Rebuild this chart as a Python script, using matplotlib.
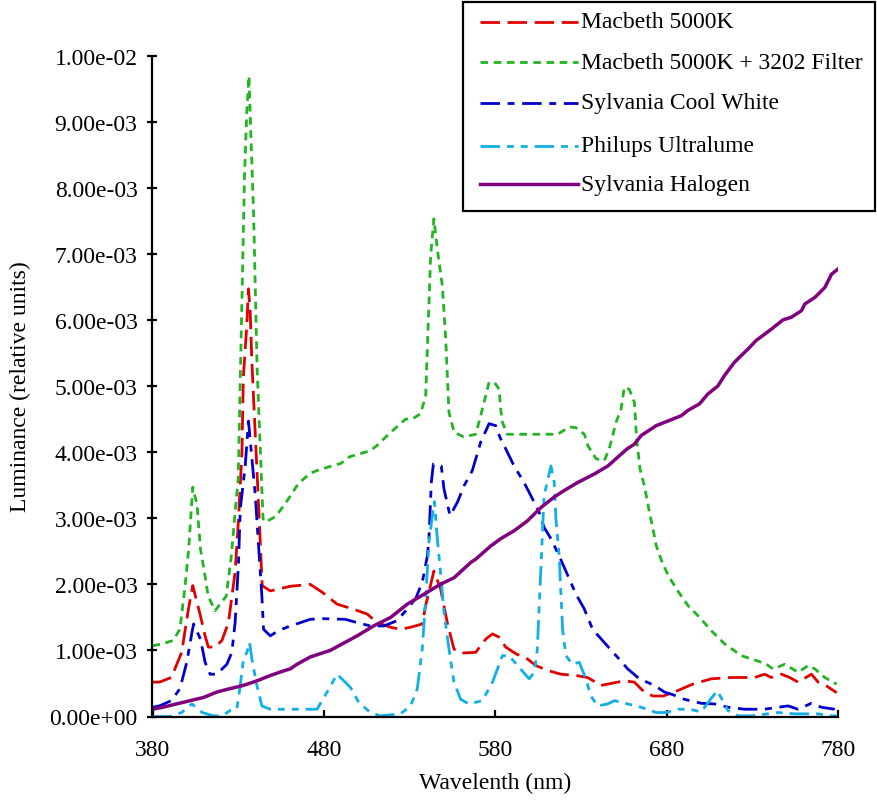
import matplotlib
matplotlib.use("Agg")
import matplotlib.pyplot as plt
from matplotlib.ticker import MultipleLocator, FormatStrFormatter
from matplotlib.lines import Line2D
from matplotlib.patches import Rectangle

plt.rcParams['font.family'] = ['Liberation Serif', 'DejaVu Serif']
plt.rcParams['lines.scale_dashes'] = False

# ---- data (luminance in units of 1e-3) ----
green_wl = [380, 386, 392, 396, 399, 401, 403.5, 406, 408, 410, 412.5, 416.5, 423, 426, 428, 430,
            433.7, 435, 436.3, 437, 439, 441, 444.5, 446, 452, 458, 465, 472, 476, 482, 490, 495,
            507, 511, 519, 527.7, 531.6, 536.4, 539.4, 542.3, 544.2, 546.2, 549.1, 551, 553, 556,
            561.6, 568.6, 571.5, 574.4, 576.4, 580.3, 582.2, 583.2, 584.2, 587, 616.4, 623.2, 627,
            632, 634, 638.8, 643.6, 646.5, 650.5, 653.4, 655.3, 658.2, 661.2, 662.5, 664.5, 667,
            670, 672, 674, 677, 681, 686.5, 692.4, 699.2, 706, 713.8, 723.6, 734.3, 738.2, 742.1,
            748.9, 756.7, 762.6, 766.5, 772.3, 779.2]
green_v = [1.07, 1.10, 1.15, 1.32, 1.97, 2.5, 3.47, 3.2, 2.53, 2.23, 1.82, 1.6, 1.82, 2.43, 3.03, 3.59,
           8.18, 9.14, 9.69, 9.1, 7.6, 5.3, 2.99, 2.94, 3.03, 3.24, 3.52, 3.68, 3.72, 3.77, 3.83, 3.93,
           4.02, 4.1, 4.3, 4.5, 4.5, 4.58, 4.85, 6.97, 7.53, 7.07, 6.52, 5.76, 4.6, 4.3,
           4.23, 4.27, 4.55, 4.85, 5.06, 5.03, 4.95, 4.65, 4.45, 4.27, 4.27, 4.38, 4.37,
           4.27, 4.1, 3.9, 3.87, 4.05, 4.45, 4.65, 4.98, 4.95, 4.75, 4.2, 3.74, 3.49,
           3.09, 2.84, 2.58, 2.36, 2.13, 1.9, 1.68, 1.5, 1.3, 1.1, 0.92, 0.83, 0.79, 0.72,
           0.79, 0.67, 0.77, 0.72, 0.59, 0.49]

red_wl = [380, 384, 391, 397, 401, 403.5, 408, 410.7, 412.6, 416.5, 420.5, 424.3, 428.2, 430.2, 432.2,
          433, 435, 436, 437, 438, 440, 442, 444, 448.7, 453.6, 460.4, 472, 479, 487.7, 496.5, 505.3,
          511.1, 518.9, 524.7, 530.6, 537.4, 539.4, 544.2, 548.1, 552, 555.9, 559.8, 568.6, 574.4,
          578.4, 582.2, 586.1, 592, 598.8, 603.7, 611.4, 618.3, 627.1, 633.9, 641.7, 651.5, 655.3,
          661.2, 665, 667, 672, 678, 684.5, 695.3, 706, 717.7, 731.3, 737.2, 741.1, 747, 751.8,
          756.7, 764.5, 768.4, 772.3, 779.2]
red_v = [0.52, 0.52, 0.59, 0.97, 1.63, 1.98, 1.52, 1.22, 1.05, 1.05, 1.15, 1.42, 2.18, 2.99, 4.0,
         5.13, 5.91, 6.47, 6.12, 5.36, 4.25, 3.14, 1.98, 1.9, 1.93, 1.97, 2.0, 1.88, 1.7, 1.63, 1.55,
         1.42, 1.35, 1.32, 1.35, 1.4, 1.68, 2.2, 1.93, 1.42, 1.02, 0.96, 0.97, 1.17,
         1.25, 1.2, 1.05, 0.95, 0.87, 0.77, 0.69, 0.64, 0.62, 0.59, 0.47, 0.52, 0.54,
         0.52, 0.42, 0.37, 0.31, 0.31, 0.37, 0.49, 0.57, 0.59, 0.59, 0.64, 0.59, 0.64, 0.59,
         0.52, 0.64, 0.52, 0.48, 0.36]

blue_wl = [380, 384, 391, 396, 400, 403, 404, 408, 410.7, 413.6, 417.5, 423.4, 426.3, 428.2, 430.2,
           431.2, 434.1, 436, 440, 441.9, 443.8, 444.8, 448.7, 453.6, 460.4, 466.3, 472, 480, 492.6,
           499.4, 507.2, 515, 522.8, 528.7, 533.5, 537.4, 540.4, 541.3, 542.7, 543.9, 548.5, 550.1,
           553.6, 557.9, 561.8, 566.6, 571.5, 576.4, 580.3, 582.8, 586.1, 591, 596.8, 600.8, 605.6,
           608.5, 612.5, 617.3, 621.2, 627.1, 631.9, 636.8, 643.6, 649.5, 657.3, 664.1, 672.9, 678.7,
           683.6, 690.4, 700.2, 708, 715.8, 725.5, 737.2, 745, 750.9, 756.7, 764.5, 770.3, 778.1]
blue_v = [0.14, 0.16, 0.24, 0.42, 0.82, 1.27, 1.4, 1.17, 0.82, 0.64, 0.64, 0.79, 0.97, 1.42, 2.33,
          3.14, 3.79, 4.47, 3.34, 2.58, 1.83, 1.32, 1.22, 1.3, 1.37, 1.42, 1.47, 1.48, 1.47,
          1.42, 1.37, 1.37, 1.45, 1.63, 1.78, 2.03, 2.43, 2.69, 3.54, 3.82, 3.79, 3.44,
          3.04, 3.24, 3.49, 3.72, 4.15, 4.43, 4.4, 4.22, 4.05, 3.79, 3.54, 3.34, 3.09,
          2.86, 2.69, 2.43, 2.2, 1.85, 1.63, 1.32, 1.12, 0.95, 0.72, 0.57, 0.47, 0.37,
          0.33, 0.26, 0.2, 0.19, 0.14, 0.11, 0.11, 0.14, 0.16, 0.11, 0.2, 0.14, 0.11]

cyan_wl = [380, 390, 397, 403, 409, 415.6, 420.5, 425.3, 429.2, 431.2, 433.1, 435.1, 436.6, 438, 440.9,
           443.8, 448.7, 460.4, 476, 481.9, 487.7, 495.5, 500.4, 507.2, 513, 524.7, 530.6, 534.5,
           537.4, 539.4, 541.3, 543.3, 544.5, 546.2, 548, 550.1, 553, 555.9, 559.8, 564.7, 572.5,
           578.4, 584.2, 588.1, 593, 599.8, 602.7, 604.5, 608.5, 612.5, 614.4, 615.4, 617.3, 619.3,
           621.2, 625.1, 629, 632.9, 635.8, 639.7, 645.6, 649.5, 657.3, 665.1, 673.9, 679.8, 686.5,
           693.3, 700.2, 705, 709.5, 712.8, 715.8, 721.6, 729.4, 745, 754.8, 768.4, 776.3, 780]
cyan_v = [0.0, 0.0, 0.06, 0.19, 0.06, 0.01, 0.01, 0.09, 0.11, 0.47, 0.87, 0.97, 1.12, 0.87, 0.47,
          0.16, 0.11, 0.11, 0.11, 0.37, 0.64, 0.44, 0.21, 0.06, 0.01, 0.04, 0.16, 0.42,
          1.02, 1.78, 2.64, 3.04, 3.25, 2.69, 2.2, 1.58, 1.02, 0.52, 0.26, 0.19, 0.24,
          0.52, 0.92, 0.92, 0.77, 0.57, 0.67, 1.0, 3.34, 3.79, 3.54, 2.99, 2.43, 1.32,
          0.92, 0.79, 0.82, 0.57, 0.31, 0.16, 0.19, 0.24, 0.19, 0.14, 0.06, 0.06, 0.11,
          0.11, 0.07, 0.24, 0.39, 0.24, 0.09, 0.01, 0.01, 0.06, 0.04, 0.04, 0.01, 0.01]

purple_wl = [380, 386, 394, 402, 410, 417.5, 425, 433, 441, 448.7, 456.5, 460.4, 464.3, 472, 483.7,
             488.7, 499.4, 509, 519, 528.7, 538.4, 548, 556, 565.7, 568.6, 577.4, 583.2, 591, 598.8,
             606.6, 614.4, 620.3, 628.1, 637.9, 645.7, 653.5, 657, 661.2, 665.1, 673.9, 680.7, 688.5,
             692.4, 699.2, 704.1, 709.9, 713.8, 719.6, 727.5, 732.3, 741.1, 747.9, 752.8, 758.7,
             760.6, 766.5, 772.3, 776.2, 780]
purple_v = [0.11, 0.14, 0.19, 0.24, 0.29, 0.37, 0.42, 0.47, 0.54, 0.62, 0.69, 0.72, 0.79, 0.9, 1.0,
            1.07, 1.22, 1.37, 1.5, 1.7, 1.85, 2.0, 2.1, 2.33, 2.38, 2.58, 2.69, 2.81, 2.96,
            3.16, 3.32, 3.42, 3.54, 3.67, 3.79, 3.97, 4.05, 4.12, 4.25, 4.4, 4.47, 4.55,
            4.63, 4.73, 4.88, 5.0, 5.16, 5.36, 5.56, 5.69, 5.86, 6.0, 6.04, 6.14,
            6.24, 6.34, 6.49, 6.69, 6.77]

labels = ["Macbeth 5000K", "Macbeth 5000K + 3202 Filter", "Sylvania Cool White",
          "Philups Ultralume", "Sylvania Halogen"]
xticks = [380, 480, 580, 680, 780]

W, H = 878, 804
fig = plt.figure(figsize=(W / 100, H / 100), dpi=100)
ax = fig.add_axes([152.5 / W, 1 - 717.5 / H, (838 - 152.5) / W, (717.5 - 56.5) / H])

scale = 1e-3
styles = [
    dict(color='#E00000', lw=2.0, dashes=(14, 5.5)),
    dict(color='#22B422', lw=2.0, dashes=(5.5, 4)),
    dict(color='#0000CC', lw=2.0, dashes=(14, 5.5, 5, 5.5)),
    dict(color='#12AEE8', lw=2.0, dashes=(14, 5, 5, 5, 5, 5)),
    dict(color='#800080', lw=2.5, linestyle='-'),
]
series = [(red_wl, red_v), (green_wl, green_v), (blue_wl, blue_v),
          (cyan_wl, cyan_v), (purple_wl, purple_v)]
for (wl, v), st, lab in zip(series, styles, labels):
    ax.plot(wl, [x * scale for x in v], label=lab, **st)

ax.set_xlim(380, 780)
ax.set_ylim(0, 0.01)
ax.set_xticks(xticks)
ax.yaxis.set_major_locator(MultipleLocator(0.001))
ax.yaxis.set_major_formatter(FormatStrFormatter('%.2e'))

for s in ['top', 'right']:
    ax.spines[s].set_visible(False)
for s in ['left', 'bottom']:
    ax.spines[s].set_linewidth(1.6)
    ax.spines[s].set_color('black')

ax.tick_params(axis='y', direction='inout', length=7.5, width=1.6, labelsize=17, pad=7)
ax.tick_params(axis='x', direction='in', length=5, width=1.6, labelsize=17, pad=16)

ax.set_xlabel("Wavelenth (nm)", fontsize=17, labelpad=9)
ax.set_ylabel("Luminance (relative units)", fontsize=17, labelpad=13)

# ---- legend box (figure pixel layout) ----
fig.add_artist(Rectangle((463 / W, 1 - 212 / H), (875 - 463) / W, (212 - 3) / H,
                         transform=fig.transFigure, facecolor='white', edgecolor='black',
                         linewidth=1.6, zorder=5))
row_y = [22.7, 63.3, 104, 146.7, 185]
for yy, st, lab in zip(row_y, styles, labels):
    fy = 1 - yy / H
    fig.add_artist(Line2D([480 / W, 578 / W], [fy, fy], transform=fig.transFigure,
                          zorder=6, **st))
    fig.text(581 / W, fy, lab, fontsize=17, va='center', ha='left', zorder=6)

fig.savefig("out.png", dpi=100)
